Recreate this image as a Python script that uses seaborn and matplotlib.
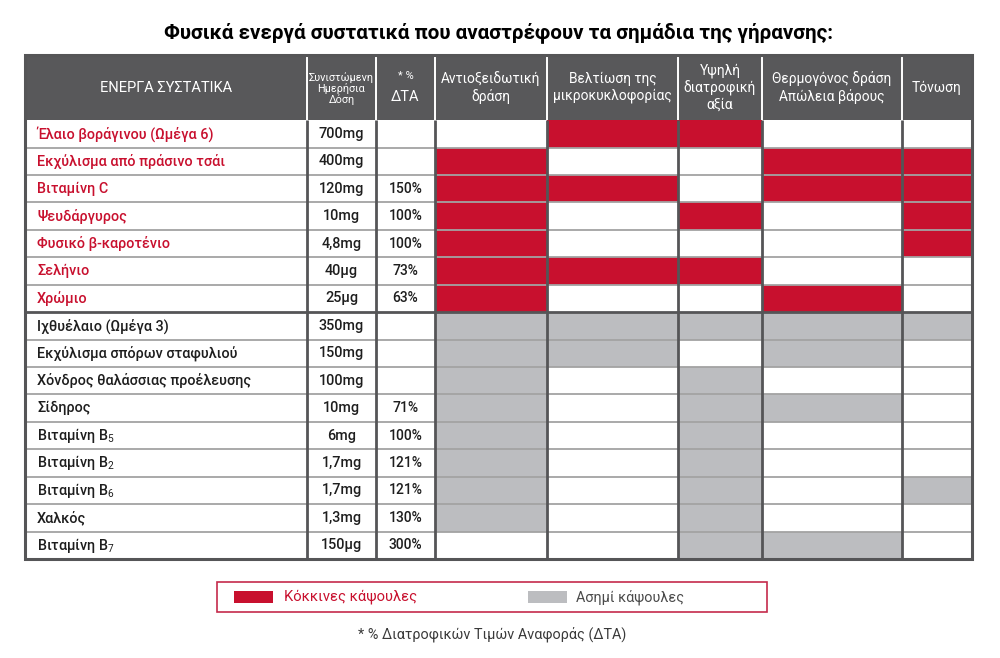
import numpy as np
import matplotlib
matplotlib.use("Agg")
import matplotlib.pyplot as plt
from matplotlib.colors import ListedColormap
from matplotlib.patches import Rectangle
import seaborn as sns

title = "Φυσικά ενεργά συστατικά που αναστρέφουν τα σημάδια της γήρανσης:"

col_headers = ["ΕΝΕΡΓΑ ΣΥΣΤΑΤΙΚΑ", "Συνιστώμενη\nΗμερήσια\nΔόση", "* %\nΔΤΑ",
               "Αντιοξειδωτική\nδράση", "Βελτίωση της\nμικροκυκλοφορίας",
               "Υψηλή\nδιατροφική\nαξία", "Θερμογόνος δράση\nΑπώλεια βάρους", "Τόνωση"]

ingredients = ["Έλαιο βοράγινου (Ωμέγα 6)", "Εκχύλισμα από πράσινο τσάι", "Βιταμίνη C",
               "Ψευδάργυρος", "Φυσικό β-καροτένιο", "Σελήνιο", "Χρώμιο",
               "Ιχθυέλαιο (Ωμέγα 3)", "Εκχύλισμα σπόρων σταφυλιού",
               "Χόνδρος θαλάσσιας προέλευσης", "Σίδηρος", "Βιταμίνη B$_5$",
               "Βιταμίνη B$_2$", "Βιταμίνη B$_6$", "Χαλκός", "Βιταμίνη B$_7$"]

doses = ["700mg", "400mg", "120mg", "10mg", "4,8mg", "40μg", "25μg",
         "350mg", "150mg", "100mg", "10mg", "6mg", "1,7mg", "1,7mg", "1,3mg", "150μg"]

dta = ["", "", "150%", "100%", "100%", "73%", "63%",
       "", "", "", "71%", "100%", "121%", "121%", "130%", "300%"]

# 1 = red capsules, 2 = silver capsules
capsule = [1, 1, 1, 1, 1, 1, 1, 2, 2, 2, 2, 2, 2, 2, 2, 2]

# antioxidant, microcirculation, nutritional value, thermogenic, tonic
effects = [
    [0, 1, 1, 0, 0],
    [1, 0, 0, 1, 1],
    [1, 1, 0, 1, 1],
    [1, 0, 1, 0, 1],
    [1, 0, 0, 0, 1],
    [1, 1, 1, 0, 0],
    [1, 0, 0, 1, 0],
    [1, 1, 1, 1, 1],
    [1, 1, 0, 1, 0],
    [1, 0, 1, 0, 0],
    [1, 0, 1, 1, 0],
    [1, 0, 1, 0, 0],
    [1, 0, 1, 0, 0],
    [1, 0, 1, 0, 1],
    [1, 0, 1, 0, 0],
    [0, 0, 1, 1, 0],
]

legend_labels = ["Κόκκινες κάψουλες", "Ασημί κάψουλες"]
footnote = "* % Διατροφικών Τιμών Αναφοράς (ΔΤΑ)"

RED = "#c8102e"
SILVER = "#bcbdc0"
HEAD = "#58585a"
DARK = "#555557"
INK = "#1e1e1e"

sns.set_style("white")
plt.rcParams["font.family"] = ["Roboto", "DejaVu Sans"]
plt.rcParams["mathtext.fontset"] = "custom"
plt.rcParams["mathtext.rm"] = "Roboto"
plt.rcParams["mathtext.it"] = "Roboto:italic"

# layout of the table (widths in pixels, heights in grid units)
col_w = [282, 69, 59, 112, 131, 84, 140, 70]
head_h, row_h = 19, 8

codes = np.zeros((len(ingredients) + 1, len(col_headers)), dtype=int)
codes[0, :] = 3
codes[1:, 3:] = np.array(effects) * np.array(capsule)[:, None]
heights = [head_h] + [row_h] * len(ingredients)
grid = np.repeat(np.repeat(codes, heights, axis=0), col_w, axis=1)

fig = plt.figure(figsize=(10, 6.58), dpi=100)
ax = fig.add_axes([25 / 1000, 1 - 559 / 658, 947 / 1000, 504 / 658])
sns.heatmap(grid, cmap=ListedColormap(["white", RED, SILVER, HEAD]), vmin=-0.5, vmax=3.5,
            cbar=False, xticklabels=False, yticklabels=False, ax=ax)

x_edges = np.concatenate([[0], np.cumsum(col_w)])
y_edges = np.concatenate([[0], np.cumsum(heights)])
total_w, total_h = x_edges[-1], y_edges[-1]

# grid lines
for i, y in enumerate(y_edges[2:-1]):
    dark = (i + 1) == 7
    ax.hlines(y, 0, total_w, color=DARK if dark else "#a3a3a3", lw=2.0 if dark else 1.3, zorder=3)
ax.vlines(x_edges[1:-1], head_h, total_h, color=DARK, lw=2.0, zorder=4)
ax.vlines(x_edges[1:-1], 0, head_h, color="white", lw=1.4, zorder=4)
ax.add_patch(Rectangle((0, 0), total_w, total_h, fill=False, edgecolor=DARK, lw=2.2, zorder=5,
                       clip_on=False))

# header text
xc = (x_edges[:-1] + x_edges[1:]) / 2
for j, h in enumerate(col_headers):
    if j == 0:
        ax.text(xc[j], head_h / 2, h, ha="center", va="center", color="white", fontsize=10.5)
    elif j == 1:
        ax.text(xc[j], head_h / 2 + 0.2, h, ha="center", va="center", color="white",
                fontsize=7.8, linespacing=1.0)
    elif j == 2:
        star, word = h.split("\n")
        ax.text(xc[j], head_h / 2 - 3.3, star, ha="center", va="center", color="white", fontsize=8)
        ax.text(xc[j], head_h / 2 + 2.7, word, ha="center", va="center", color="white", fontsize=10.5)
    else:
        ax.text(xc[j], head_h / 2, h, ha="center", va="center", color="white",
                fontsize=9.9, linespacing=1.2)

# body text
for i, name in enumerate(ingredients):
    yc = head_h + row_h * i + row_h / 2
    color = RED if capsule[i] == 1 else INK
    ax.text(12, yc, name, ha="left", va="center", color=color, fontsize=10.4, fontweight="medium")
    ax.text(xc[1], yc, doses[i], ha="center", va="center", color=INK, fontsize=10.4,
            fontweight="medium")
    ax.text(xc[2], yc, dta[i], ha="center", va="center", color=INK, fontsize=10,
            fontweight="medium")

# title, legend and footnote on a pixel overlay
ov = fig.add_axes([0, 0, 1, 1], zorder=-1)
ov.set_xlim(0, 1000)
ov.set_ylim(658, 0)
ov.set_axis_off()
ov.text(499, 33, title, ha="center", va="center", fontsize=14.9, fontweight="bold", color="black")
ov.add_patch(Rectangle((217, 582), 550, 30, fill=False, edgecolor="#c52b4c", lw=1.2))
ov.add_patch(Rectangle((234, 591), 39, 12, color=RED, lw=0))
ov.text(284, 597, legend_labels[0], ha="left", va="center", color=RED, fontsize=10.6)
ov.add_patch(Rectangle((528, 591), 39, 12, color=SILVER, lw=0))
ov.text(576, 597, legend_labels[1], ha="left", va="center", color="#4a4a4a", fontsize=10.4)
ov.text(492, 634, footnote, ha="center", va="center", color="#3a3a3a", fontsize=10.4)

fig.savefig("out.png", dpi=100, facecolor="white")
